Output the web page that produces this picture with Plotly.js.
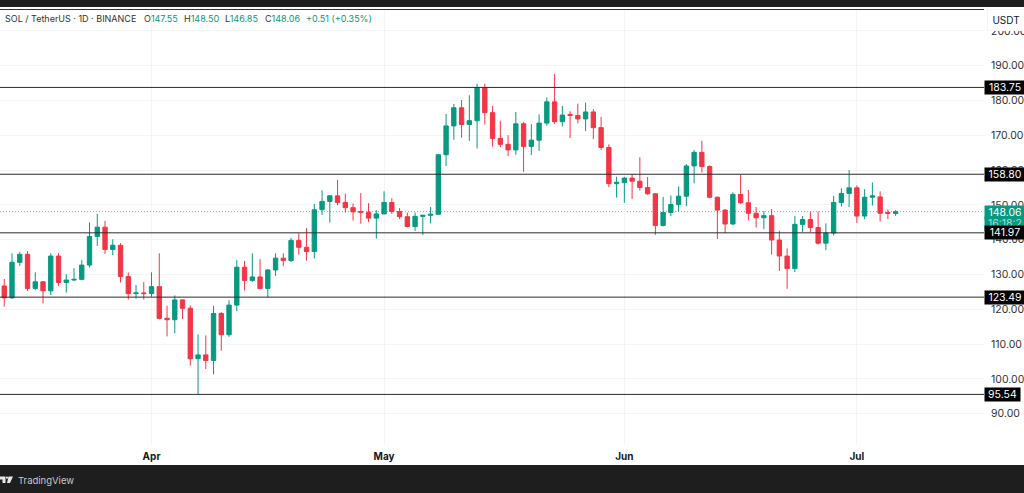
<!DOCTYPE html>
<html>
<head>
<meta charset="utf-8">
<script src="https://cdn.plot.ly/plotly-3.0.1.min.js"></script>
<style>html,body{margin:0;padding:0;background:#fff;overflow:hidden}#chart{width:1024px;height:493px}</style>
</head>
<body>
<div id="chart"></div>
<script>
const dates = [
"2025-03-13","2025-03-14","2025-03-15","2025-03-16","2025-03-17","2025-03-18","2025-03-19","2025-03-20","2025-03-21","2025-03-22","2025-03-23","2025-03-24","2025-03-25","2025-03-26","2025-03-27","2025-03-28","2025-03-29","2025-03-30","2025-03-31",
"2025-04-01","2025-04-02","2025-04-03","2025-04-04","2025-04-05","2025-04-06","2025-04-07","2025-04-08","2025-04-09","2025-04-10","2025-04-11","2025-04-12","2025-04-13","2025-04-14","2025-04-15","2025-04-16","2025-04-17","2025-04-18","2025-04-19","2025-04-20","2025-04-21","2025-04-22","2025-04-23","2025-04-24","2025-04-25","2025-04-26","2025-04-27","2025-04-28","2025-04-29","2025-04-30",
"2025-05-01","2025-05-02","2025-05-03","2025-05-04","2025-05-05","2025-05-06","2025-05-07","2025-05-08","2025-05-09","2025-05-10","2025-05-11","2025-05-12","2025-05-13","2025-05-14","2025-05-15","2025-05-16","2025-05-17","2025-05-18","2025-05-19","2025-05-20","2025-05-21","2025-05-22","2025-05-23","2025-05-24","2025-05-25","2025-05-26","2025-05-27","2025-05-28","2025-05-29","2025-05-30","2025-05-31",
"2025-06-01","2025-06-02","2025-06-03","2025-06-04","2025-06-05","2025-06-06","2025-06-07","2025-06-08","2025-06-09","2025-06-10","2025-06-11","2025-06-12","2025-06-13","2025-06-14","2025-06-15","2025-06-16","2025-06-17","2025-06-18","2025-06-19","2025-06-20","2025-06-21","2025-06-22","2025-06-23","2025-06-24","2025-06-25","2025-06-26","2025-06-27","2025-06-28","2025-06-29","2025-06-30",
"2025-07-01","2025-07-02","2025-07-03","2025-07-04","2025-07-05","2025-07-06"];

const opens = [
126.7,123.3,133.5,135.8,126.0,127.9,125.3,135.3,127.7,128.4,128.6,132.7,140.9,143.6,137.2,138.4,129.4,124.5,124.7,
124.5,126.5,117.4,117.0,122.7,120.3,105.8,106.9,105.3,118.8,112.7,121.2,132.1,128.3,129.3,126.0,131.3,134.7,134.0,139.8,137.8,136.6,148.6,151.0,152.6,150.7,149.2,148.1,147.9,146.2,
147.4,150.7,148.1,146.6,143.8,146.7,147.0,147.3,164.4,172.7,177.9,173.1,174.2,183.7,176.5,169.1,167.4,165.8,173.3,166.8,168.6,173.5,179.6,173.9,176.0,175.7,174.7,176.7,172.2,166.5,156.1,
156.4,157.7,156.8,155.0,153.2,144.1,147.8,150.1,152.5,161.2,165.1,161.0,152.2,148.5,144.5,153.0,150.6,147.6,146.3,146.9,139.9,135.3,131.7,144.4,145.8,143.5,139.0,141.9,150.7,153.3,
154.9,146.8,152.2,152.3,147.8,147.55];
const highs = [
128.7,136.1,136.5,136.7,130.6,128.1,136.1,136.1,130.1,131.8,134.1,145.0,147.4,145.4,140.1,139.0,130.6,127.0,127.8,
130.6,136.1,121.0,124.0,122.9,121.1,112.8,112.5,121.0,119.2,122.6,134.1,133.9,136.1,134.4,131.5,136.1,136.1,140.5,141.8,143.3,150.3,154.2,152.8,157.2,153.2,150.4,153.4,150.5,148.5,
153.9,151.9,149.1,147.8,147.8,147.1,149.4,164.6,176.1,179.0,180.1,181.5,184.8,184.8,178.4,174.2,170.0,176.7,173.8,173.2,176.0,180.9,187.6,178.4,176.9,179.1,179.4,177.5,175.3,167.4,158.1,
158.1,158.9,163.7,158.0,153.2,152.3,152.7,155.3,161.7,165.8,168.4,161.4,152.4,148.8,153.6,158.7,154.3,149.4,148.2,148.8,142.6,137.5,146.8,146.8,148.1,148.1,144.7,152.6,154.8,160.0,
155.6,154.5,156.4,153.9,148.7,148.50];
const lows = [
120.8,123.0,132.5,125.3,125.6,121.7,124.1,126.7,124.8,128.1,128.3,132.0,138.2,135.9,135.6,127.7,122.8,123.1,122.8,
123.6,117.1,112.2,113.1,117.2,103.8,95.4,102.8,101.3,108.1,112.1,119.5,125.4,127.9,125.8,123.4,129.6,132.4,133.6,135.7,134.0,134.6,147.1,144.9,149.9,147.8,145.5,144.6,145.0,140.3,
147.4,147.4,145.9,143.5,142.5,141.4,144.7,147.3,161.2,168.7,169.3,168.4,166.2,173.1,166.7,166.6,164.0,164.4,159.5,164.3,165.5,172.7,173.3,172.5,169.2,173.4,171.2,168.9,165.8,155.1,152.1,
150.6,151.7,154.1,152.9,141.4,143.8,146.8,148.0,149.6,156.2,159.3,151.9,140.2,141.9,144.3,150.3,145.5,143.5,143.0,135.7,131.0,125.9,130.7,142.2,142.2,138.6,137.0,141.2,149.5,149.4,
144.8,145.9,149.8,145.2,145.9,146.85];
const closes = [
123.3,133.5,135.8,126.0,127.9,125.3,135.3,127.7,128.4,128.6,132.7,140.9,143.6,137.2,138.4,129.4,124.5,124.7,124.5,
126.5,117.4,117.0,122.7,120.3,105.8,106.9,105.3,118.8,112.7,121.2,132.1,128.3,129.3,126.0,131.3,134.7,134.0,139.8,137.8,136.6,148.6,151.0,152.6,150.7,149.2,148.0,147.9,146.2,147.4,
150.7,148.1,146.6,143.8,146.7,147.0,147.3,164.4,172.7,177.9,173.1,174.2,183.7,176.5,169.1,167.4,165.8,173.3,166.8,168.6,173.5,179.6,173.9,175.8,175.7,174.7,176.7,172.2,166.5,156.1,156.5,
157.7,156.8,155.0,153.2,144.1,147.8,150.1,152.5,161.2,165.1,161.0,152.2,148.5,144.5,153.0,150.6,147.6,146.3,146.9,139.9,135.3,131.7,144.4,145.8,143.5,139.0,141.9,150.7,153.3,154.9,
146.8,152.2,152.6,147.6,147.55,148.06];

const levels = [183.75, 158.80, 141.97, 123.49, 95.54];
const lastPrice = 148.06;
const priceTicks = [90,100,110,120,130,140,150,160,170,180,190,200];
const monthTicks = ["2025-04-01","2025-05-01","2025-06-01","2025-07-01"];
const monthLabels = ["Apr","May","Jun","Jul"];
const ohlcLetters = ["O","H","L","C"];
const ohlcValues = ["147.55","148.50","146.85","148.06"];
const ohlcX = [143,183,224,264];
const FONT = "Inter, 'Liberation Sans', sans-serif";
const GREEN = "#089981", RED = "#F23645", DARK = "#1e1e1e";

const L = {l:0, r:40, t:10, b:49, w:1024, h:493};
const px = x => x / (L.w - L.l - L.r);
const py = y => (L.h - L.b - y) / (L.h - L.t - L.b);

const shapes = [
  {type:"rect", xref:"paper", yref:"paper", x0:px(0), x1:px(1024), y0:py(0), y1:py(7), fillcolor:DARK, line:{width:0}, layer:"above"},
  {type:"rect", xref:"paper", yref:"paper", x0:px(0), x1:px(1024), y0:py(465), y1:py(493), fillcolor:DARK, line:{width:0}, layer:"above"},
  {type:"line", xref:"paper", yref:"paper", x0:0, x1:1, y0:py(9.5), y1:py(9.5), line:{color:"#333", width:1}, layer:"above"},
  {type:"line", xref:"paper", yref:"y", x0:0, x1:1, y0:lastPrice, y1:lastPrice, opacity:0.65, line:{color:GREEN, width:1, dash:"1px,2px"}, layer:"below"}
];
levels.forEach(v => shapes.push({type:"line", xref:"paper", yref:"y", x0:0, x1:1, y0:v, y1:v, line:{color:"#2b2b2b", width:1}, layer:"above"}));
const poly = pts => "M" + pts.map(p => px(p[0]) + "," + py(p[1])).join("L") + "Z";
shapes.push({type:"path", xref:"paper", yref:"paper", path:poly([[0,476.5],[5.5,476.5],[5.5,483],[2.5,483],[2.5,479.5],[0,479.5]]), fillcolor:"#e8e8e8", line:{width:0}, layer:"above"});
shapes.push({type:"path", xref:"paper", yref:"paper", path:poly([[8.5,476.5],[13,476.5],[10,483],[7,483]]), fillcolor:"#e8e8e8", line:{width:0}, layer:"above"});
shapes.push({type:"circle", xref:"paper", yref:"paper", x0:px(5.9), x1:px(8), y0:py(476.5), y1:py(478.8), fillcolor:"#e8e8e8", line:{width:0}, layer:"above"});

const annotations = [
 {xref:"paper", yref:"paper", x:1, y:py(205), xanchor:"left", yanchor:"top",
  text:lastPrice.toFixed(2), showarrow:false, bgcolor:GREEN, width:40, height:13, align:"center", borderpad:0,
  font:{family:FONT, size:10.5, color:"#fff"}},
 {xref:"paper", yref:"paper", x:1, y:py(216), xanchor:"left", yanchor:"top",
  text:"16:18:2", showarrow:false, bgcolor:GREEN, width:40, height:13, align:"center", borderpad:0,
  font:{family:FONT, size:10.5, color:"#a7dcd2"}}
];
levels.forEach(v => annotations.push({
  xref:"paper", yref:"y", x:1, y:v, xanchor:"left", yanchor:"middle",
  text:v.toFixed(2), showarrow:false, bgcolor:"#000", width:v < 100 ? 35 : 40, height:13, align:"center", borderpad:0,
  font:{family:FONT, size:10.5, color:"#fff"}
}));
annotations.push({
  xref:"paper", yref:"paper", x:px(987), y:py(9), xanchor:"left", yanchor:"top",
  text:"USDT", showarrow:false, bgcolor:"#fff", bordercolor:"#f4f4f4", borderwidth:1,
  width:36, height:20, align:"center", borderpad:0,
  font:{family:FONT, size:10, color:"#131722"}
});
const g = s => '<span style="color:'+GREEN+'">'+s+'</span>';
const head = (x, text) => ({xref:"paper", yref:"paper", x:px(x), y:py(18), xanchor:"left", yanchor:"middle", showarrow:false,
  text, borderpad:0, font:{family:FONT, size:9, color:"#333"}});
annotations.push(head(4, "SOL / TetherUS · 1D · BINANCE"));
ohlcLetters.forEach((k,i) => annotations.push(head(ohlcX[i], k + g(ohlcValues[i]))));
annotations.push(head(305, g("+0.51 (+0.35%)")));
annotations.push({
  xref:"paper", yref:"paper", x:px(16), y:py(480), xanchor:"left", yanchor:"middle", showarrow:false,
  text:"TradingView", font:{family:FONT, size:9.5, color:"#c8c8c8"}
});

Plotly.newPlot("chart", [{
  type:"candlestick", x:dates, open:opens, high:highs, low:lows, close:closes,
  increasing:{line:{color:GREEN, width:1}, fillcolor:GREEN},
  decreasing:{line:{color:RED, width:1}, fillcolor:RED},
  whiskerwidth:0, hoverinfo:"skip", showlegend:false
}], {
  width:L.w, height:L.h, margin:{l:L.l, r:L.r, t:L.t, b:L.b, pad:0},
  paper_bgcolor:"#fff", plot_bgcolor:"#fff", showlegend:false, dragmode:false, boxgap:0.2,
  xaxis:{type:"date", range:["2025-03-12 10:48","2025-07-17 09:36"], rangeslider:{visible:false},
    tickmode:"array", tickvals:monthTicks, ticktext:monthLabels, ticks:"", showline:false, zeroline:false,
    gridcolor:"#f3f4f5", gridwidth:1, ticklabelstandoff:5,
    tickfont:{family:FONT, size:10, color:"#131722", weight:700}},
  yaxis:{side:"right", range:[81.29,206.0], tickmode:"array", tickvals:priceTicks, ticktext:priceTicks.map(v=>v.toFixed(2)),
    ticks:"", showline:false, zeroline:false, gridcolor:"#f3f4f5", gridwidth:1, ticklabelstandoff:6,
    tickfont:{family:FONT, size:10.5, color:"#333"}},
  shapes, annotations
}, {staticPlot:true, displayModeBar:false});
</script>
</body>
</html>
